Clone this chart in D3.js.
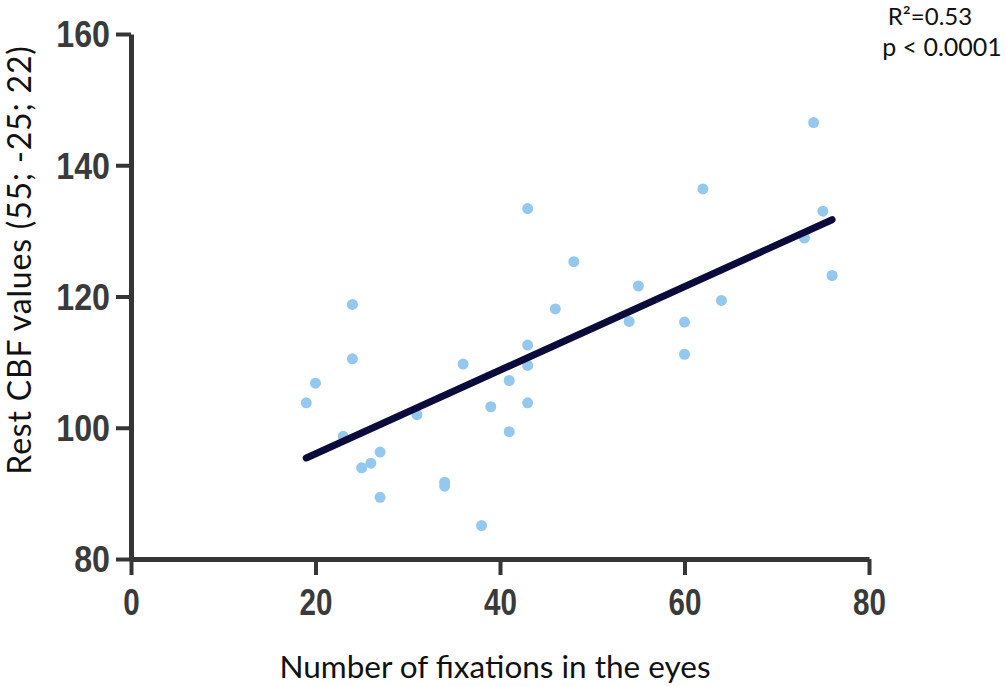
<!DOCTYPE html>
<html>
<head>
<meta charset="utf-8">
<script src="https://cdn.jsdelivr.net/npm/d3@7"></script>
<style>
  html, body { margin: 0; padding: 0; background: #fff; }
  svg { display: block; }
</style>
</head>
<body>
<script>
// Data
const fixations = [19,20,23,24,24,25,26,27,27,31,34,34,36,38,39,41,41,43,43,43,43,46,48,54,55,60,60,62,64,73,74,75,76];
const cbfValues = [103.8,106.8,98.7,118.8,110.5,93.9,94.6,96.3,89.4,102.0,91.7,91.1,109.7,85.1,103.2,107.2,99.4,133.4,112.6,109.5,103.8,118.1,125.3,116.2,121.6,116.1,111.2,136.4,119.4,128.9,146.5,133.0,123.2];
const fitX = [19, 76];
const fitY = [95.4, 131.7];
const xTicks = [0, 20, 40, 60, 80];
const yTicks = [80, 100, 120, 140, 160];
const xTitle = "Number of fixations in the eyes";
const yTitle = "Rest CBF values (55; -25; 22)";
const statLines = ["R²=0.53", "p < 0.0001"];

const W = 1005, H = 686;
const svg = d3.select("body").append("svg").attr("width", W).attr("height", H);

const x = d3.scaleLinear().domain([0, 80]).range([131, 869]);
const y = d3.scaleLinear().domain([80, 160]).range([559, 34]);

const axisColor = "#363636";
const titleFont = "Lato, 'Open Sans', sans-serif";

function styleAxis(g) {
  g.select(".domain").attr("stroke", axisColor).attr("stroke-width", 5);
  g.selectAll(".tick line").attr("stroke", axisColor).attr("stroke-width", 4);
  g.selectAll(".tick text")
    .attr("fill", "#3a3a3a")
    .attr("font-family", "'Liberation Sans', Arial, sans-serif")
    .attr("font-weight", "bold")
    .attr("font-size", 37);
}

// Y axis
const gy = svg.append("g").attr("transform", `translate(${x(0)},0)`)
  .call(d3.axisLeft(y).tickValues(yTicks).tickSize(15).tickSizeOuter(0).tickPadding(6).tickFormat(d3.format("d")));
styleAxis(gy);
gy.selectAll(".tick text").each(function() {
  const t = d3.select(this);
  const tx = +t.attr("x");
  t.attr("x", null).attr("transform", `translate(${tx},1) scale(0.87,1)`);
});

// X axis
const gx = svg.append("g").attr("transform", `translate(0,${y(80)})`)
  .call(d3.axisBottom(x).tickValues(xTicks).tickSize(16).tickSizeOuter(0).tickPadding(9).tickFormat(d3.format("d")));
styleAxis(gx);
gx.selectAll(".tick text").each(function() {
  const t = d3.select(this);
  const ty = +t.attr("y");
  t.attr("y", null).attr("dy", null)
   .attr("dominant-baseline", "hanging")
   .attr("transform", `translate(0,${ty + 4}) scale(0.8,1)`);
});

// Points
const pts = fixations.map((d, i) => ({fx: d, v: cbfValues[i]}));
svg.append("g").selectAll("circle").data(pts).join("circle")
  .attr("cx", d => x(d.fx))
  .attr("cy", d => y(d.v))
  .attr("r", 5.5)
  .attr("fill", "#95c8ee");

// Regression line
const fit = fitX.map((d, i) => [d, fitY[i]]);
svg.append("path")
  .datum(fit)
  .attr("d", d3.line().x(d => x(d[0])).y(d => y(d[1])))
  .attr("stroke", "#0b0b3b")
  .attr("stroke-width", 7)
  .attr("stroke-linecap", "round")
  .attr("fill", "none");

// Axis titles
svg.append("text")
  .attr("x", 495).attr("y", 678)
  .attr("text-anchor", "middle")
  .attr("font-family", titleFont)
  .attr("font-size", 31.5)
  .attr("fill", "#111")
  .text(xTitle);

svg.append("text")
  .attr("transform", "translate(31,260) rotate(-90)")
  .attr("text-anchor", "middle")
  .attr("font-family", titleFont)
  .attr("font-size", 32)
  .attr("letter-spacing", 0.8)
  .attr("fill", "#111")
  .text(yTitle);

// Stats annotation
svg.append("text")
  .attr("x", 930).attr("y", 25)
  .attr("text-anchor", "middle")
  .attr("font-family", titleFont)
  .attr("font-size", 24)
  .attr("fill", "#111")
  .text(statLines[0]);
svg.append("text")
  .attr("x", 942).attr("y", 56)
  .attr("text-anchor", "middle")
  .attr("font-family", titleFont)
  .attr("font-size", 25)
  .attr("fill", "#111")
  .text(statLines[1]);
</script>
</body>
</html>
